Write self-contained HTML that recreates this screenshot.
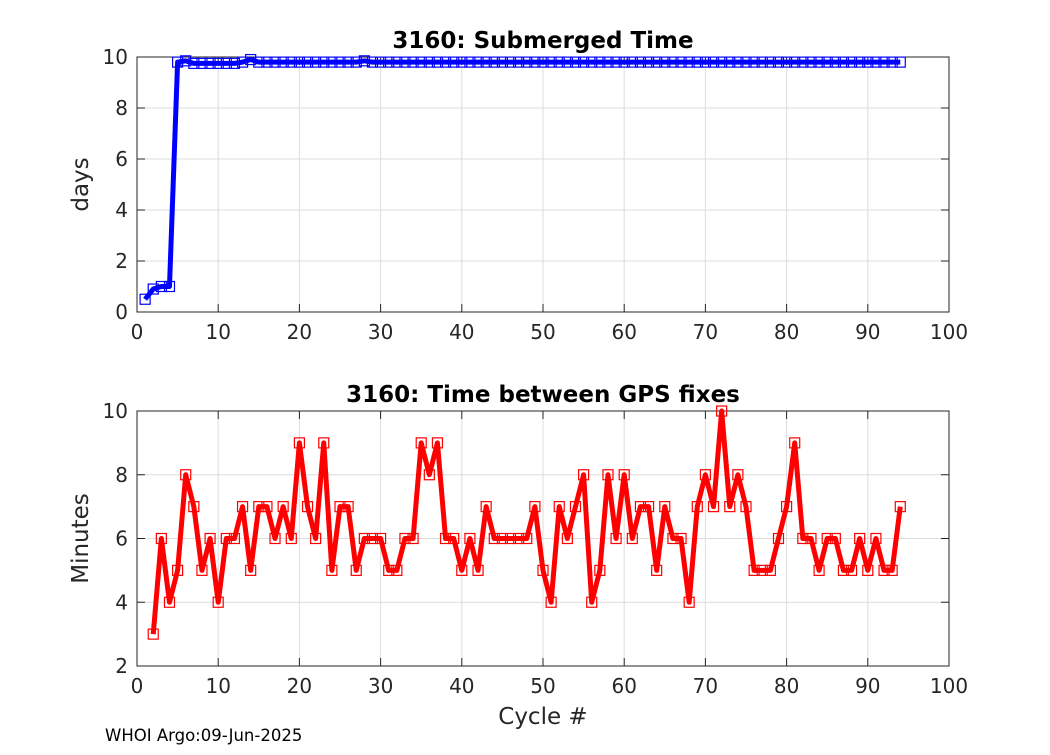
<!DOCTYPE html>
<html><head><meta charset="utf-8"><style>
body{margin:0;background:#fff;font-family:"Liberation Sans","DejaVu Sans",sans-serif}
svg text{font-family:"DejaVu Sans","Liberation Sans",sans-serif}
</style></head><body>
<svg id="c" width="1050" height="750"></svg>
<script>
const topCycles=[1,2,3,4,5,6,7,8,9,10,11,12,13,14,15,16,17,18,19,20,21,22,23,24,25,26,27,28,29,30,31,32,33,34,35,36,37,38,39,40,41,42,43,44,45,46,47,48,49,50,51,52,53,54,55,56,57,58,59,60,61,62,63,64,65,66,67,68,69,70,71,72,73,74,75,76,77,78,79,80,81,82,83,84,85,86,87,88,89,90,91,92,93,94];
const topDays=[0.5,0.9,1,1,9.8,9.85,9.75,9.75,9.75,9.75,9.75,9.75,9.8,9.9,9.8,9.8,9.8,9.8,9.8,9.8,9.8,9.8,9.8,9.8,9.8,9.8,9.8,9.85,9.8,9.8,9.8,9.8,9.8,9.8,9.8,9.8,9.8,9.8,9.8,9.8,9.8,9.8,9.8,9.8,9.8,9.8,9.8,9.8,9.8,9.8,9.8,9.8,9.8,9.8,9.8,9.8,9.8,9.8,9.8,9.8,9.8,9.8,9.8,9.8,9.8,9.8,9.8,9.8,9.8,9.8,9.8,9.8,9.8,9.8,9.8,9.8,9.8,9.8,9.8,9.8,9.8,9.8,9.8,9.8,9.8,9.8,9.8,9.8,9.8,9.8,9.8,9.8,9.8,9.8];
const gpsMinutes=[3,6,4,5,8,7,5,6,4,6,6,7,5,7,7,6,7,6,9,7,6,9,5,7,7,5,6,6,6,5,5,6,6,9,8,9,6,6,5,6,5,7,6,6,6,6,6,7,5,4,7,6,7,8,4,5,8,6,8,6,7,7,5,7,6,6,4,7,8,7,10,7,8,7,5,5,5,6,7,9,6,6,5,6,6,5,5,6,5,6,5,5,7];
const gpsCycles=gpsMinutes.map((v,i)=>i+2);
const xTicks=[0,10,20,30,40,50,60,70,80,90,100];
const topYTicks=[0,2,4,6,8,10];
const botYTicks=[2,4,6,8,10];

const NS="http://www.w3.org/2000/svg";
const svg=document.getElementById('c');
function mk(tag,attrs,parent){const e=document.createElementNS(NS,tag);for(const k in attrs)e.setAttribute(k,attrs[k]);(parent||svg).appendChild(e);return e;}
function panel(o){
  const L=137,R=949,T=o.top,B=o.top+255;
  const sx=v=>L+(v-0)/100*(R-L);
  const sy=v=>B-(v-o.ymin)/(o.ymax-o.ymin)*(B-T);
  const g=mk('g',{});
  
  
  mk('rect',{x:L,y:T,width:R-L,height:B-T,fill:'#fff'},g);
  xTicks.forEach(t=>{
    const l=mk('line',{x1:sx(t),x2:sx(t),y1:T,y2:B,stroke:'#dcdcdc','stroke-width':1},g);
    
    mk('line',{x1:sx(t),x2:sx(t),y1:B,y2:B-8,stroke:'#262626'},g);
    mk('line',{x1:sx(t),x2:sx(t),y1:T,y2:T+8,stroke:'#262626'},g);
    const tx=mk('text',{x:sx(t),y:B+27,'font-size':20,'text-anchor':'middle',fill:'#262626'},g);
    
    tx.textContent=t;
  });
  o.yTicks.forEach(t=>{
    const l=mk('line',{x1:L,x2:R,y1:sy(t),y2:sy(t),stroke:'#dcdcdc','stroke-width':1},g);
    
    mk('line',{x1:L,x2:L+8,y1:sy(t),y2:sy(t),stroke:'#262626'},g);
    mk('line',{x1:R,x2:R-8,y1:sy(t),y2:sy(t),stroke:'#262626'},g);
    const tx=mk('text',{x:L-9,y:sy(t)+7,'font-size':20,'text-anchor':'end',fill:'#262626'},g);
    
    tx.textContent=t;
  });
  const fr=mk('rect',{x:L,y:T,width:R-L,height:B-T,fill:'none',stroke:'#262626','stroke-width':1},g);
  
  const pts=o.xs.map((x,i)=>sx(x)+','+sy(o.ys[i])).join(' ');
  const pl=mk('polyline',{points:pts,fill:'none',stroke:o.color,'stroke-width':5,'stroke-linejoin':'round'},g);
  
  o.xs.forEach((x,i)=>{
    const m=mk('rect',{x:sx(x)-5,y:sy(o.ys[i])-5,width:10,height:10,fill:'none',stroke:o.color,'stroke-width':1.2},g);
    
  });
  const ti=mk('text',{x:(L+R)/2,y:T-9,'font-size':23,'font-weight':'bold','text-anchor':'middle',fill:'#000'},g);
  
  ti.textContent=o.title;
  const yl=mk('text',{x:0,y:0,'font-size':23,'text-anchor':'middle',fill:'#262626',transform:`translate(88,${(T+B)/2}) rotate(-90)`},g);
  
  yl.textContent=o.ylabel;
}
panel({name:'submerged-time-panel',series:'submerged-days',top:57,ymin:0,ymax:10,yTicks:topYTicks,xs:topCycles,ys:topDays,color:'#0000ff',title:'3160: Submerged Time',ylabel:'days'});
panel({name:'gps-time-panel',series:'gps-minutes',top:411,ymin:2,ymax:10,yTicks:botYTicks,xs:gpsCycles,ys:gpsMinutes,color:'#ff0000',title:'3160: Time between GPS fixes',ylabel:'Minutes'});
const xl=mk('text',{x:543,y:724,'font-size':23,'text-anchor':'middle',fill:'#262626'});


xl.textContent='Cycle #';
const ft=mk('text',{x:105,y:741,'font-size':16.5,fill:'#000'});


ft.textContent='WHOI Argo:09-Jun-2025';
</script>
</body></html>
